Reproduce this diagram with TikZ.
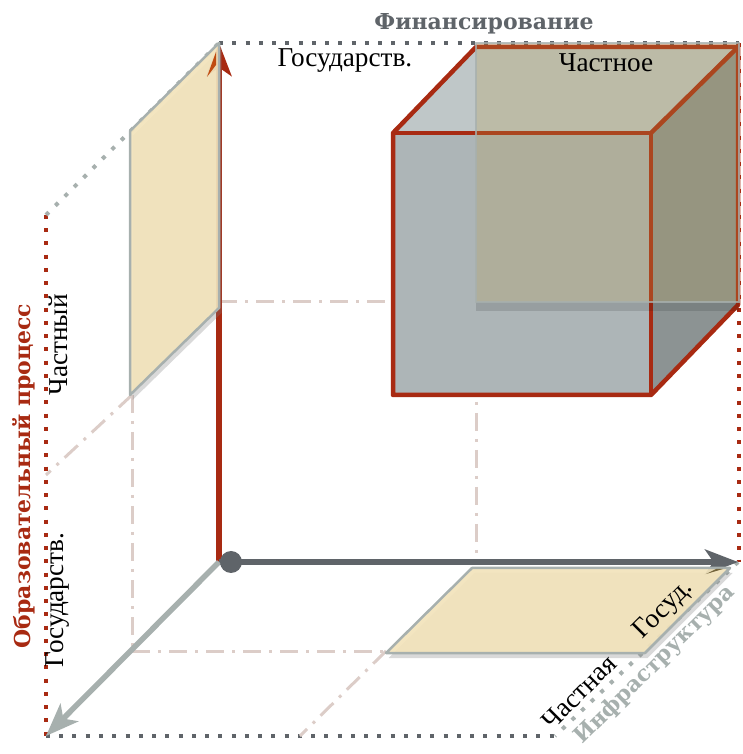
\documentclass[tikz,border=0pt]{standalone}
\usepackage{fontspec}
\setmainfont{Liberation Serif}
\newfontfamily\headfont{DejaVu Serif}
\usetikzlibrary{arrows.meta,calc,shadows,positioning}
\definecolor{axisred}{HTML}{A82A12}
\definecolor{axisdark}{HTML}{5F6469}
\definecolor{axislight}{HTML}{A7B0AE}
\definecolor{panelfill}{HTML}{F2E3BB}
\definecolor{dashline}{HTML}{DCCDC8}
\tikzset{
axisline/.style={line width=0.11cm,-{Stealth[length=0.66cm,width=0.5cm,inset=0.17cm]}},
dots/.style={line width=0.08cm,dash pattern=on 0.08cm off 0.185cm},
dashdot/.style={dashline,line width=0.06cm,dash pattern=on 0.36cm off 0.16cm on 0.06cm off 0.16cm},
panel/.style={draw=axislight,line width=0.05cm,fill=panelfill,fill opacity=0.92,line join=round,drop shadow={shadow xshift=0.05cm,shadow yshift=-0.1cm,opacity=0.3}},
cubeedge/.style={draw=axisred,line width=0.09cm,line join=round},
plain/.style={font=\fontsize{15.5}{15.5}\selectfont,text=black,inner sep=0pt},
heading/.style={font=\headfont\bfseries\fontsize{12.5}{12.5}\selectfont,inner sep=0pt},
}
\begin{document}
\begin{tikzpicture}
\useasboundingbox (-4.38,-3.84) rectangle (10.46,11.24);
\coordinate (O) at (0,0);
\coordinate (Y) at (0,10.38);
\coordinate (X) at (10.38,0);
\coordinate (Z) at (-3.46,-3.48);
\coordinate (YX) at (10.4,10.38);
\coordinate (YZ) at (-3.46,6.94);
\coordinate (XZ) at (6.72,-3.48);
\coordinate (MY) at (0,5.2);
\coordinate (MX) at (5.14,0);
\coordinate (MC) at (5.14,5.2);
\coordinate (MZ) at (-1.74,-1.78);
\coordinate (ML) at (-1.74,3.34);
\coordinate (MR) at (3.34,-1.78);
\coordinate (ZL) at (-3.46,1.74);
\coordinate (ZB) at (1.62,-3.48);
\draw[dots,axisdark] (Y) -- (YX);
\draw[dots,axisred] (YX) -- (10.4,0);
\draw[dots,axisred] (YZ) -- (Z);
\draw[dots,axisdark] (Z) -- (XZ);
\draw[dots,axislight] (YZ) -- (Y);
\draw[dots,axislight] (X) -- (XZ);
\draw[dashdot] (MY) -- (MC);
\draw[dashdot] (MC) -- (MX);
\draw[dashdot] (ML) -- (MZ);
\draw[dashdot] (ML) -- (ZL);
\draw[dashdot] (MZ) -- (MR);
\draw[dashdot] (MR) -- (ZB);
\coordinate (A) at (3.48,8.58);
\coordinate (B) at (8.64,8.58);
\coordinate (C) at (8.64,3.34);
\coordinate (D) at (3.48,3.34);
\coordinate (E) at (5.14,10.3);
\coordinate (F) at (10.38,10.3);
\coordinate (G) at (10.38,5.14);
\fill[fill=black!0!gray!0!white] (A) -- (E) -- (F) -- (B) -- cycle;
\fill[fill={rgb,255:red,191;green,199;blue,200}] (A) -- (E) -- (F) -- (B) -- cycle;
\fill[fill={rgb,255:red,140;green,147;blue,147}] (B) -- (F) -- (G) -- (C) -- cycle;
\fill[fill={rgb,255:red,173;green,181;blue,183}] (A) rectangle (C);
\draw[cubeedge] (A) -- (E) -- (F) -- (G) -- (C) -- (D) -- cycle;
\draw[cubeedge] (A) -- (B) -- (C);
\draw[cubeedge] (B) -- (F);
\fill[black,opacity=0.12] (5.14,5.2) rectangle (10.4,5.02);
\fill[fill={rgb,255:red,183;green,155;blue,72},fill opacity=0.25] (5.14,5.2) rectangle (YX);
\draw[axislight,line width=0.05cm,opacity=0.8] (5.14,5.2) rectangle (YX);
\draw[axisline,axisred] (O) -- (Y);
\draw[axisline,axisdark] (O) -- (X);
\draw[axisline,axislight] (O) -- (Z);
\filldraw[panel] (-1.78,8.62) -- (0,10.38) -- (0,5.08) -- (-1.78,3.34) -- cycle;
\filldraw[panel] (3.34,-1.82) -- (5.06,-0.12) -- (10.22,-0.12) -- (8.52,-1.82) -- cycle;
\fill[fill={rgb,255:red,192;green,75;blue,16}] (-0.24,9.7) -- (-0.06,10.2) -- (-0.06,9.94) -- cycle;
\fill[fill={rgb,255:red,115;green,100;blue,60}] (9.74,-0.24) -- (10.08,-0.14) -- (9.94,-0.14) -- cycle;
\fill[axisdark] (0.24,0) circle (0.22);
\node[heading,text=axisdark] (fin) at (5.3,10.76) {Финансирование};
\node[heading,text=axisred,rotate=90] (obr) at (-3.9,1.72) {Образовательный процесс};
\node[heading,text=axislight,rotate=44.5] (inf) at (8.72,-2.06) {Инфраструктура};
\node[plain] (gos) at (2.52,10.02) {Государств.};
\node[plain] (cha) at (7.74,9.98) {Частное};
\node[plain,rotate=90] (chs) at (-3.22,4.34) {Частный};
\node[plain,rotate=90] (gov) at (-3.22,-0.76) {Государств.};
\node[plain,rotate=45] (gsd) at (8.9,-0.96) {Госуд.};
\node[plain,rotate=45] (chn) at (7.2,-2.6) {Частная};
\end{tikzpicture}
\end{document}
